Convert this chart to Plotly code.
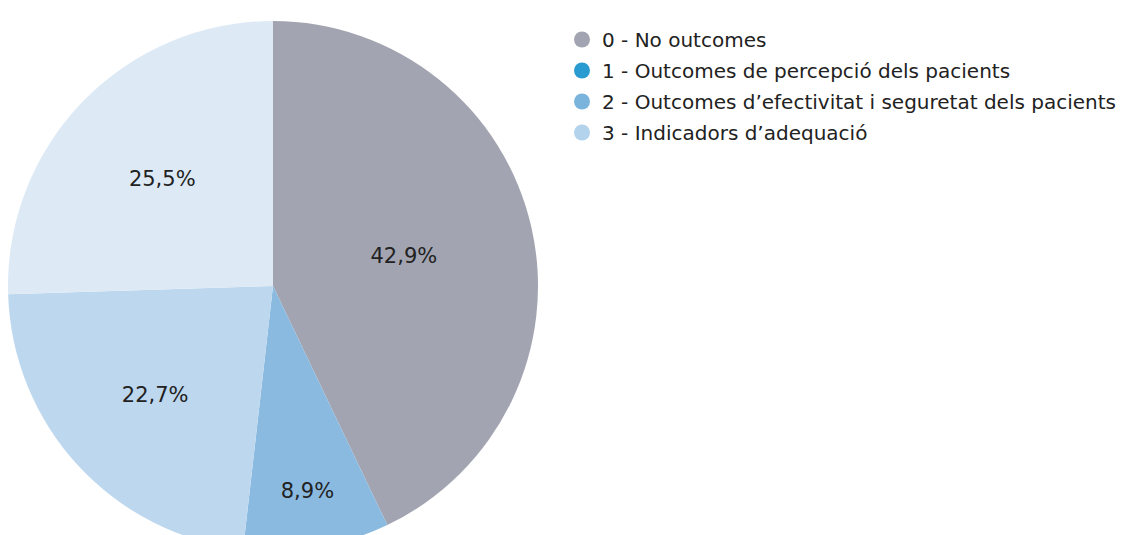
import plotly.graph_objects as go

categories = ["0 - No outcomes", "2 - Outcomes d’efectivitat", "3 - Indicadors d’adequació", "Altres"]
values = [42.9, 8.9, 22.7, 25.5]
slice_colors = ["#a2a5b1", "#8abae0", "#bdd7ee", "#ddeaf6"]

legend_labels = [
    "0 - No outcomes",
    "1 - Outcomes de percepció dels pacients",
    "2 - Outcomes d’efectivitat i seguretat dels pacients",
    "3 - Indicadors d’adequació",
]
legend_colors = ["#a2a5b1", "#2a9bd0", "#7ab4dc", "#b3d3ec"]

W, H = 1131, 600
font_family = "DejaVu Sans, Arial, sans-serif"

# pie geometry in figure pixels
cx, cy, r = 265, 278, 265

fig = go.Figure()
fig.add_trace(go.Pie(
    labels=categories,
    values=values,
    sort=False,
    direction="clockwise",
    rotation=0,
    marker=dict(colors=slice_colors, line=dict(width=0)),
    texttemplate="%{percent:.1%}",
    textposition="inside",
    insidetextorientation="horizontal",
    textfont=dict(size=21, color="#222222", family=font_family),
    showlegend=False,
    hoverinfo="label+percent",
    domain=dict(x=[(cx - r) / W, (cx + r) / W],
                y=[1 - (cy + r) / H, 1 - (cy - r) / H]),
))

for i, (lab, col) in enumerate(zip(legend_labels, legend_colors)):
    fig.add_trace(go.Scatter(
        x=[None], y=[None], mode="markers", name=lab,
        legendgroup=f"g{i}",
        marker=dict(symbol="circle", size=20, color=col),
    ))

fig.update_layout(
    width=W, height=H,
    margin=dict(l=0, r=0, t=0, b=0, autoexpand=False),
    paper_bgcolor="white",
    plot_bgcolor="white",
    separators=",.",
    xaxis=dict(visible=False),
    yaxis=dict(visible=False),
    legend=dict(
        x=554 / W, xanchor="left", y=1 - 12 / H, yanchor="top",
        font=dict(size=20, color="#222222", family=font_family),
        bgcolor="rgba(0,0,0,0)",
        itemsizing="trace",
        tracegroupgap=2,
    ),
)

fig.write_html("out.html")
